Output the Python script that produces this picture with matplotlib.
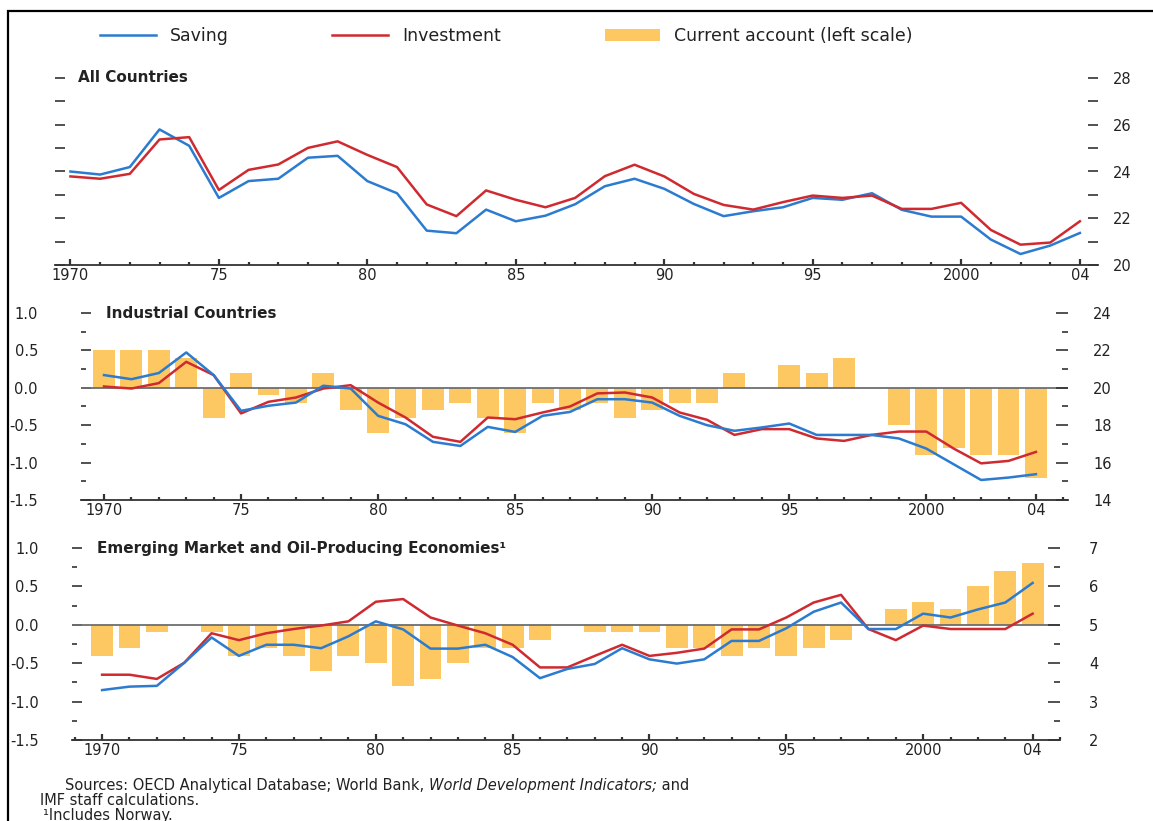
import numpy as np
import matplotlib
matplotlib.use('Agg')
import matplotlib.pyplot as plt
from matplotlib.ticker import MultipleLocator, FormatStrFormatter
from matplotlib.patches import Rectangle

plt.rcParams['font.family'] = ['DejaVu Sans']
plt.rcParams['axes.unicode_minus'] = False

W, H = 1153, 821

# ---- data (percent of GDP), 1970-2004 ----
years = np.arange(1970, 2005)
tick_years = [1970, 1975, 1980, 1985, 1990, 1995, 2000, 2004]
tick_labels = ['1970', '75', '80', '85', '90', '95', '2000', '04']

all_saving = [24.0, 23.87, 24.19, 25.8, 25.1, 22.87, 23.59, 23.69, 24.59, 24.67,
              23.59, 23.07, 21.47, 21.36, 22.37, 21.87, 22.11, 22.6, 23.37, 23.69,
              23.26, 22.61, 22.09, 22.3, 22.47, 22.87, 22.79, 23.07, 22.36, 22.07,
              22.07, 21.09, 20.47, 20.83, 21.37]
all_invest = [23.79, 23.69, 23.9, 25.37, 25.47, 23.21, 24.07, 24.3, 25.01, 25.29,
              24.71, 24.19, 22.59, 22.09, 23.19, 22.79, 22.47, 22.87, 23.8, 24.29,
              23.79, 23.04, 22.57, 22.37, 22.69, 22.97, 22.87, 22.97, 22.4, 22.4,
              22.66, 21.5, 20.87, 20.96, 21.87]

ind_ca = [0.5, 0.5, 0.5, 0.4, -0.4, 0.2, -0.1, -0.2, 0.2, -0.3,
          -0.6, -0.4, -0.3, -0.2, -0.4, -0.6, -0.2, -0.3, -0.2, -0.4,
          -0.3, -0.2, -0.2, 0.2, 0.0, 0.3, 0.2, 0.4, 0.0, -0.5,
          -0.9, -0.8, -0.9, -0.9, -1.2]
ind_saving = [20.68, 20.46, 20.79, 21.89, 20.68, 18.77, 19.04, 19.21, 20.11, 19.96,
              18.5, 18.05, 17.11, 16.89, 17.91, 17.64, 18.5, 18.71, 19.39, 19.39,
              19.21, 18.5, 18.0, 17.7, 17.88, 18.09, 17.48, 17.48, 17.48, 17.29,
              16.75, 15.91, 15.07, 15.2, 15.38]
ind_invest = [20.07, 19.96, 20.25, 21.39, 20.68, 18.63, 19.25, 19.48, 19.96, 20.14,
              19.21, 18.41, 17.38, 17.11, 18.41, 18.32, 18.68, 19.0, 19.7, 19.75,
              19.48, 18.68, 18.29, 17.48, 17.79, 17.79, 17.29, 17.16, 17.48, 17.66,
              17.66, 16.75, 15.96, 16.09, 16.57]

emg_ca = [-0.4, -0.3, -0.1, 0.0, -0.1, -0.4, -0.3, -0.4, -0.6, -0.4,
          -0.5, -0.8, -0.7, -0.5, -0.3, -0.3, -0.2, 0.0, -0.1, -0.1,
          -0.1, -0.3, -0.3, -0.4, -0.3, -0.4, -0.3, -0.2, 0.0, 0.2,
          0.3, 0.2, 0.5, 0.7, 0.8]
emg_saving = [3.30, 3.39, 3.41, 4.01, 4.67, 4.19, 4.48, 4.48, 4.39, 4.70,
              5.09, 4.88, 4.38, 4.38, 4.48, 4.16, 3.61, 3.85, 3.98, 4.39,
              4.10, 3.99, 4.10, 4.58, 4.58, 4.91, 5.34, 5.58, 4.89, 4.89,
              5.29, 5.19, 5.40, 5.58, 6.09]
emg_invest = [3.70, 3.70, 3.59, 4.01, 4.78, 4.60, 4.78, 4.89, 4.98, 5.09,
              5.60, 5.67, 5.19, 4.98, 4.78, 4.48, 3.89, 3.89, 4.19, 4.48,
              4.19, 4.27, 4.38, 4.88, 4.88, 5.19, 5.58, 5.78, 4.89, 4.60,
              4.98, 4.89, 4.89, 4.89, 5.29]

BLUE = '#2b7bd0'
RED = '#cf2a30'
BAR = '#fdc761'
AX = '#333333'
TXT = '#222222'
FS = 10.5

fig = plt.figure(figsize=(W / 100, H / 100), dpi=100)


def frac(left, top, right, bottom):
    return [left / W, 1 - bottom / H, (right - left) / W, (bottom - top) / H]


def style_x(ax, xlim):
    ax.set_xlim(xlim)
    for s in ['top', 'left', 'right']:
        ax.spines[s].set_visible(False)
    ax.spines['bottom'].set_color(AX)
    ax.spines['bottom'].set_linewidth(1.3)
    ax.set_xticks(tick_years)
    ax.set_xticklabels(tick_labels)
    ax.xaxis.set_minor_locator(MultipleLocator(1))
    ax.tick_params(axis='x', which='major', direction='in', length=4, width=1.6,
                   color=AX, pad=2, labelsize=FS, labelcolor=TXT)
    ax.tick_params(axis='x', which='minor', direction='in', length=2.5, width=1.6,
                   color=AX)
    ax.patch.set_visible(False)


# ---- All Countries ----
ax1 = fig.add_axes(frac(55, 78, 1098, 265))
l_sav, = ax1.plot(years, all_saving, color=BLUE, lw=1.8)
l_inv, = ax1.plot(years, all_invest, color=RED, lw=1.8)
style_x(ax1, (1969.48, 2004.61))
ax1.set_ylim(20, 28)
ax1.yaxis.set_ticks_position('both')
ax1.yaxis.set_major_locator(MultipleLocator(2))
ax1.yaxis.set_minor_locator(MultipleLocator(1))
ax1.tick_params(axis='y', which='both', direction='in', length=7, width=1.2,
                color=AX, labelleft=False, labelright=True, pad=11,
                labelsize=FS, labelcolor=TXT)
ax1.text(0.022, 1.0, 'All Countries', transform=ax1.transAxes, va='center',
         ha='left', fontsize=11, fontweight='bold', color=TXT)


def ca_panel(box, xlim, ca, sav, inv, rlim, title, lpad, rpad):
    ax = fig.add_axes(box)
    bars = ax.bar(years, ca, width=0.8, color=BAR, zorder=1)
    ax.axhline(0, color='#6e6e6e', lw=1.3, zorder=2)
    style_x(ax, xlim)
    ax.set_ylim(-1.5, 1.0)
    ax.yaxis.set_major_locator(MultipleLocator(0.5))
    ax.yaxis.set_minor_locator(MultipleLocator(0.25))
    ax.yaxis.set_major_formatter(FormatStrFormatter('%.1f'))
    ax.tick_params(axis='y', which='major', direction='in', length=7, width=1.2,
                   color=AX, pad=lpad, labelsize=FS, labelcolor=TXT)
    ax.tick_params(axis='y', which='minor', direction='in', length=3.5, width=1.2,
                   color=AX)
    ax2 = ax.twinx()
    ax2.plot(years, inv, color=RED, lw=1.8)
    ax2.plot(years, sav, color=BLUE, lw=1.8)
    ax2.set_ylim(*rlim)
    for s in ax2.spines.values():
        s.set_visible(False)
    step = (rlim[1] - rlim[0]) / 5
    ax2.yaxis.set_major_locator(MultipleLocator(step))
    ax2.yaxis.set_minor_locator(MultipleLocator(step / 2))
    ax2.tick_params(axis='y', which='major', direction='in', length=9, width=1.2,
                    color=AX, pad=rpad, labelsize=FS, labelcolor=TXT)
    ax2.tick_params(axis='y', which='minor', direction='in', length=4, width=1.2,
                    color=AX)
    ax.text(0.025, 1.0, title, transform=ax.transAxes, va='center', ha='left',
            fontsize=11, fontweight='bold', color=TXT)
    return ax, bars


ax_m, h_bar = ca_panel(frac(81, 313, 1068, 500), (1969.16, 2005.17),
                       ind_ca, ind_saving, ind_invest, (14, 24),
                       'Industrial Countries', 31, 18)
ax_b, _ = ca_panel(frac(72, 548, 1060, 740), (1968.9, 2005.0),
                   emg_ca, emg_saving, emg_invest, (2, 7),
                   'Emerging Market and Oil-Producing Economies\u00b9', 24, 21)

# ---- legend ----
fig.legend([l_sav, l_inv, h_bar], ['Saving', 'Investment', 'Current account (left scale)'],
           loc='center left', bbox_to_anchor=(100 / W, 1 - 36 / H), ncol=3,
           frameon=False, fontsize=12.5, handlelength=3.2, handleheight=0.75,
           columnspacing=6.0, handletextpad=0.8, borderpad=0, borderaxespad=0,
           labelcolor=TXT)

# ---- footnotes ----
t1 = fig.text(65 / W, 1 - 793 / H, 'Sources: OECD Analytical Database; World Bank, ',
              fontsize=10.5, color=TXT, va='bottom', ha='left')
t2 = ax_b.annotate('World Development Indicators;', xy=(1, 0), xycoords=t1,
                   va='bottom', ha='left', fontsize=10.5, style='italic',
                   color=TXT, annotation_clip=False)
ax_b.annotate(' and', xy=(1, 0), xycoords=t2, va='bottom', ha='left',
              fontsize=10.5, color=TXT, annotation_clip=False)
fig.text(40 / W, 1 - 800 / H, 'IMF staff calculations.', fontsize=10.5,
         color=TXT, va='center', ha='left')
fig.text(43 / W, 1 - 815 / H, '\u00b9Includes Norway.', fontsize=10.5, color=TXT,
         va='center', ha='left')

# ---- frame ----
fig.add_artist(Rectangle((8 / W, -0.05), 1.2, 1.05 - 11 / H, transform=fig.transFigure,
                         fill=False, edgecolor='black', lw=1.6))

fig.savefig('out.png', dpi=100)
